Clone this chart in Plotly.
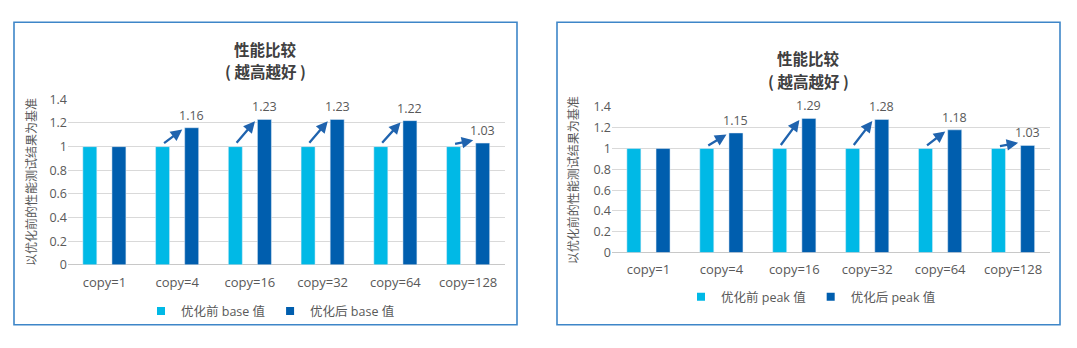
import plotly.graph_objects as go

# ---------------- data ----------------
categories = ["copy=1", "copy=4", "copy=16", "copy=32", "copy=64", "copy=128"]
base_before = [1, 1, 1, 1, 1, 1]
base_after = [1, 1.16, 1.23, 1.23, 1.22, 1.03]
peak_before = [1, 1, 1, 1, 1, 1]
peak_after = [1, 1.15, 1.29, 1.28, 1.18, 1.03]
names_left = ["优化前 base 值", "优化后 base 值"]
names_right = ["优化前 peak 值", "优化后 peak 值"]
title_lines = ["性能比较", "( 越高越好 )"]
ytitle_text = "以优化前的性能测试结果为基准"

# ---------------- style ----------------
W, H = 1077, 348
LIGHT = "#00B9E6"
DARK = "#005EAE"
ARROW = "#1F63AE"
GRID = "#D9D9D9"
TXT = "#595959"
BORDER = "#3E86C8"
FONT = "Open Sans, Noto Sans CJK SC, sans-serif"
CJK = "Noto Sans CJK SC, sans-serif"


def px(x):
    return x / W


def py(y):
    return 1 - y / H


idx = list(range(len(categories)))

fig = go.Figure()

panels = [
    dict(before=base_before, after=base_after, names=names_left, xa="x", ya="y",
         legend="legend", title_x=265.5, title_y=(42, 65), ytitle_x=30, ytitle_y=182),
    dict(before=peak_before, after=peak_after, names=names_right, xa="x2", ya="y2",
         legend="legend2", title_x=808.5, title_y=(52, 76), ytitle_x=572, ytitle_y=180),
]

for p in panels:
    for vals, name, col in ((p["before"], p["names"][0], LIGHT),
                            (p["after"], p["names"][1], DARK)):
        fig.add_trace(go.Bar(x=idx, y=vals, name=name, marker_color=col,
                             xaxis=p["xa"], yaxis=p["ya"], legend=p["legend"],
                             legendgroup=name, showlegend=False, hoverinfo="skip"))
        # legend entry with a small square swatch
        fig.add_trace(go.Scatter(x=[None], y=[None], mode="markers", name=name,
                                 marker=dict(symbol="square", size=8, color=col),
                                 xaxis=p["xa"], yaxis=p["ya"], legend=p["legend"],
                                 legendgroup=name, showlegend=True, hoverinfo="skip"))

annotations = []
for p in panels:
    for i, (b, a) in enumerate(zip(p["before"], p["after"])):
        if a == b:
            continue
        # value label above the "after" bar
        annotations.append(dict(x=i + 0.2, y=a, xref=p["xa"], yref=p["ya"],
                                text=f"{a:.2f}", showarrow=False, yanchor="bottom",
                                yshift=2, font=dict(size=12.5, color=TXT, family=FONT)))
        # improvement arrow
        annotations.append(dict(x=i + 0.07, y=max(a - 0.015, b + 0.055),
                                ax=i - 0.2, ay=b + 0.02,
                                xref=p["xa"], yref=p["ya"], axref=p["xa"], ayref=p["ya"],
                                text="", showarrow=True, arrowhead=2, arrowsize=1,
                                arrowwidth=2.3, arrowcolor=ARROW, standoff=0,
                                startstandoff=0))
    # titles (two lines)
    for line, ty in zip(title_lines, p["title_y"]):
        annotations.append(dict(x=px(p["title_x"]), y=py(ty), xref="paper", yref="paper",
                                text=line, showarrow=False, xanchor="center",
                                yanchor="middle",
                                font=dict(size=15.5, color="#404040", family=CJK,
                                          weight="bold")))
    # y-axis title
    annotations.append(dict(x=px(p["ytitle_x"]), y=py(p["ytitle_y"]), xref="paper",
                            yref="paper", text=ytitle_text, showarrow=False, textangle=-90,
                            xanchor="center", yanchor="middle",
                            font=dict(size=12, color=TXT, family=CJK)))

shapes = [
    dict(type="rect", xref="paper", yref="paper", x0=px(14), x1=px(517), y0=py(332), y1=py(14),
         line=dict(color=BORDER, width=1.6), fillcolor="rgba(0,0,0,0)", layer="above"),
    dict(type="rect", xref="paper", yref="paper", x0=px(557), x1=px(1060), y0=py(332), y1=py(14),
         line=dict(color=BORDER, width=1.6), fillcolor="rgba(0,0,0,0)", layer="above"),
]

xcommon = dict(tickvals=idx, ticktext=categories, range=[-0.5, len(categories) - 0.5],
               showgrid=False, zeroline=False, showline=False, ticks="",
               ticklabelstandoff=8,
               tickfont=dict(size=13, color=TXT, family=FONT), fixedrange=True)
ycommon = dict(range=[0, 1.4], dtick=0.2, tick0=0, showgrid=True, gridcolor=GRID, gridwidth=1,
               zeroline=True, zerolinecolor="#C8C8C8", zerolinewidth=1, showline=False,
               ticks="", tickfont=dict(size=12.5, color=TXT, family=FONT), fixedrange=True)

fig.update_layout(
    width=W, height=H, autosize=False,
    margin=dict(l=0, r=0, t=0, b=0),
    paper_bgcolor="white", plot_bgcolor="white",
    barmode="group", bargap=0.2, bargroupgap=0.52,
    font=dict(family=FONT, color=TXT),
    xaxis=dict(domain=[px(68), px(504.5)], anchor="y", **xcommon),
    yaxis=dict(domain=[py(269), py(95)], anchor="x", **ycommon),
    xaxis2=dict(domain=[px(612), px(1049.5)], anchor="y2", **xcommon),
    yaxis2=dict(domain=[py(256), py(103)], anchor="x2", **ycommon),
    legend=dict(orientation="h", x=px(141), y=py(318), xanchor="left", yanchor="middle",
                font=dict(size=12.5, color=TXT, family=FONT), bgcolor="rgba(0,0,0,0)",
                itemwidth=30, traceorder="normal"),
    legend2=dict(orientation="h", x=px(681), y=py(303), xanchor="left", yanchor="middle",
                 font=dict(size=12.5, color=TXT, family=FONT), bgcolor="rgba(0,0,0,0)",
                 itemwidth=30, traceorder="normal"),
    annotations=annotations,
    shapes=shapes,
)

fig.write_html("out.html", include_plotlyjs=True, config={"displayModeBar": False})
